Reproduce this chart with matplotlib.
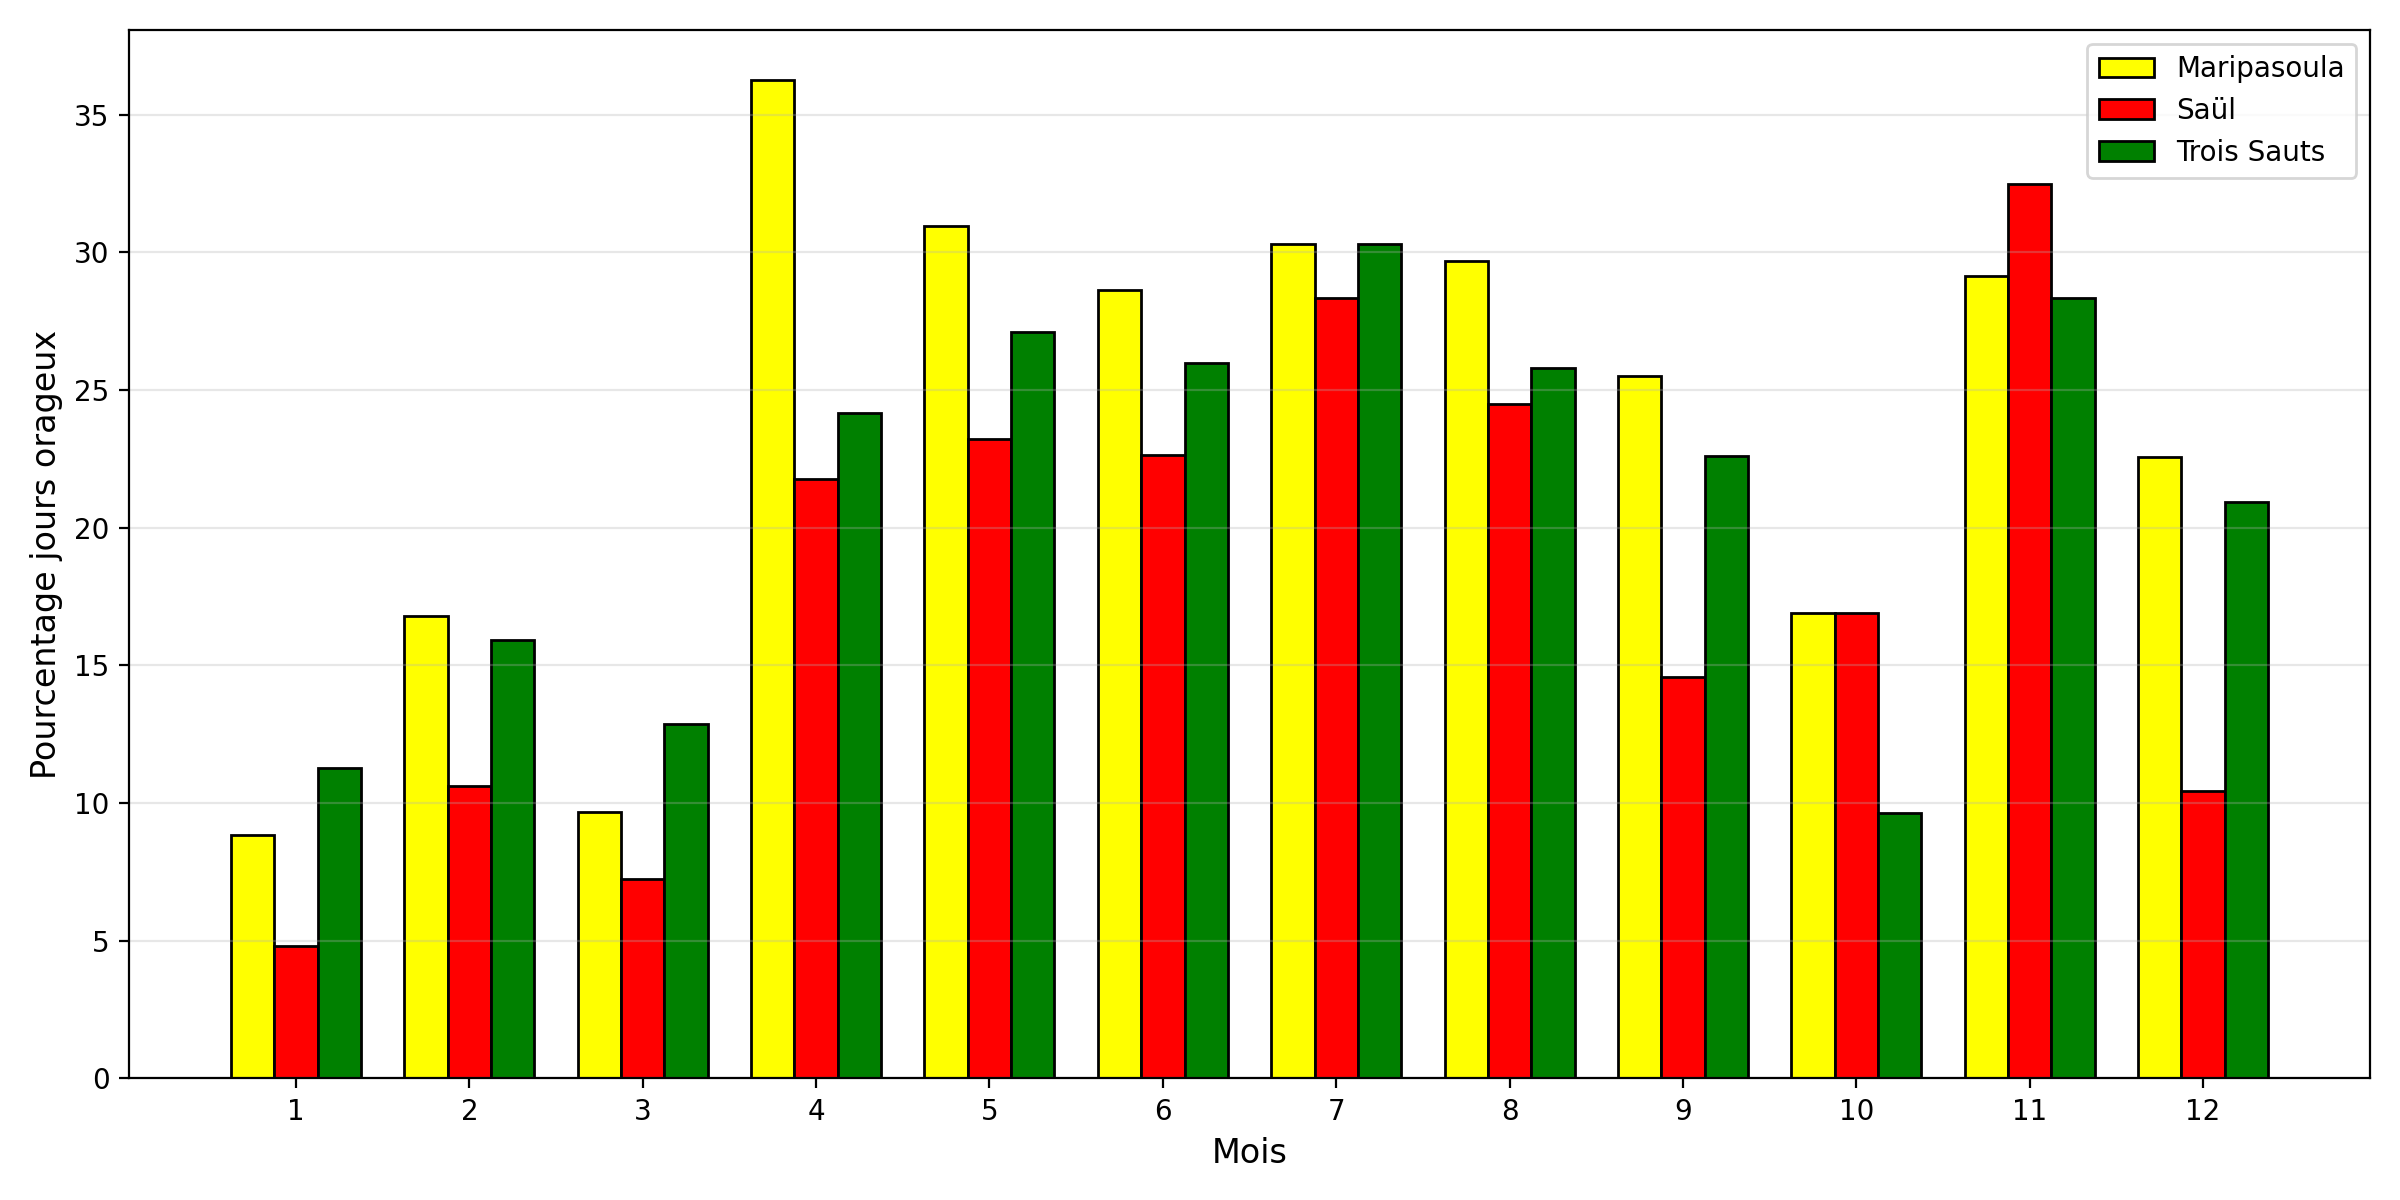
import matplotlib
matplotlib.use("Agg")
import matplotlib.pyplot as plt
import numpy as np

months = [1, 2, 3, 4, 5, 6, 7, 8, 9, 10, 11, 12]
maripasoula = [8.85, 16.81, 9.66, 36.26, 30.96, 28.64, 30.30, 29.68, 25.52, 16.91, 29.15, 22.56]
saul = [4.80, 10.61, 7.25, 21.76, 23.22, 22.64, 28.35, 24.50, 14.58, 16.91, 32.49, 10.43]
trois_sauts = [11.27, 15.93, 12.86, 24.17, 27.09, 25.98, 30.30, 25.81, 22.59, 9.65, 28.33, 20.95]

series = [
    ("Maripasoula", maripasoula, "yellow"),
    ("Saül", saul, "red"),
    ("Trois Sauts", trois_sauts, "green"),
]


def main() -> None:
    x = np.array(months, dtype=float)
    width = 0.25

    fig, ax = plt.subplots(figsize=(12, 6), dpi=200)
    for i, (label, values, color) in enumerate(series):
        ax.bar(x + (i - 1) * width, values, width, label=label,
               color=color, edgecolor="black", linewidth=1)

    ax.set_xticks(x)
    ax.set_xticklabels([str(m) for m in months])
    ax.set_xlabel("Mois", fontsize=12)
    ax.set_ylabel("Pourcentage jours orageux", fontsize=12)
    ax.grid(axis="y", alpha=0.3)
    ax.legend(loc="upper right")

    fig.tight_layout()
    fig.savefig("out.png")


if __name__ == "__main__":
    main()
